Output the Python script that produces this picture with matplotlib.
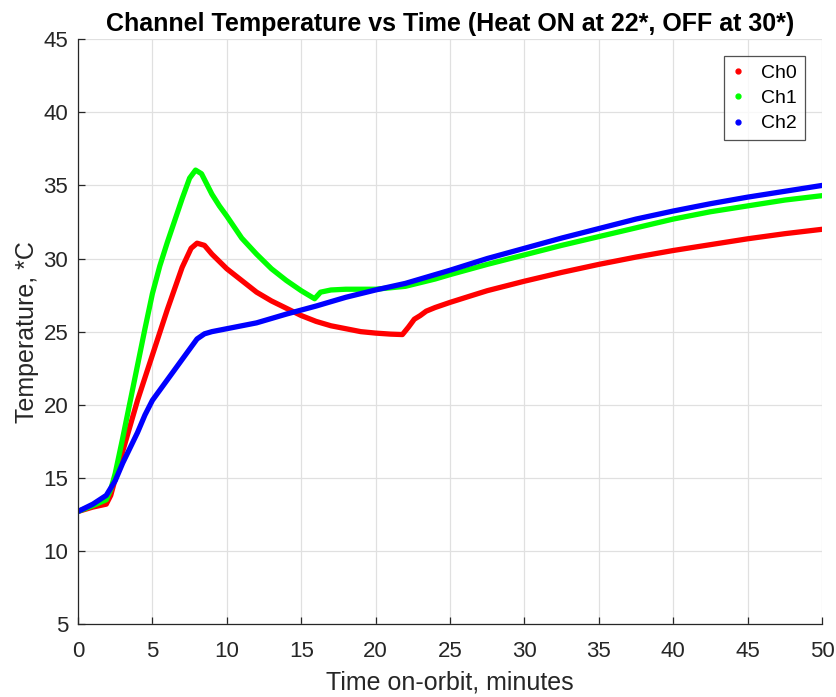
import matplotlib.pyplot as plt
from matplotlib.lines import Line2D

# Ch0 (red) - time (minutes) and temperature (*C)
t_ch0 = [0, 1, 1.9, 2.2, 3, 4, 5, 6, 7, 7.6, 8.0, 8.5, 9, 10, 11, 12, 13, 14, 15, 16,
         17, 18, 19, 20, 21, 21.8, 22.2, 22.6, 23, 23.4, 24, 25, 26.4, 27.5, 30, 32.5,
         35, 37.5, 40, 42.5, 45, 47.5, 50]
temp_ch0 = [12.7, 13.0, 13.2, 13.8, 16.8, 20.3, 23.4, 26.5, 29.4, 30.7, 31.05, 30.9,
            30.3, 29.3, 28.5, 27.7, 27.1, 26.6, 26.1, 25.7, 25.4, 25.2, 25.0, 24.9,
            24.83, 24.8, 25.3, 25.85, 26.1, 26.4, 26.65, 27.0, 27.45, 27.8, 28.45,
            29.05, 29.6, 30.1, 30.55, 30.95, 31.35, 31.7, 32.0]

# Ch1 (green)
t_ch1 = [0, 1, 1.9, 2.2, 2.5, 3, 3.5, 4, 4.5, 5, 5.5, 6, 6.5, 7, 7.5, 7.9, 8.3, 8.7,
         9, 9.5, 10, 11, 12, 13, 14, 15, 15.9, 16.3, 17, 18, 19, 20, 21, 22, 23, 24, 25,
         27.5, 30, 32.5, 35, 37.5, 40, 42.5, 45, 47.5, 50]
temp_ch1 = [12.7, 13.1, 13.5, 14.2, 15.3, 17.7, 20.2, 22.7, 25.2, 27.6, 29.5, 31.1,
            32.6, 34.1, 35.5, 36.05, 35.8, 35.0, 34.4, 33.6, 32.9, 31.4, 30.3, 29.3,
            28.5, 27.8, 27.25, 27.7, 27.85, 27.9, 27.9, 27.9, 28.0, 28.1, 28.35, 28.6,
            28.9, 29.6, 30.25, 30.9, 31.5, 32.1, 32.7, 33.2, 33.6, 34.0, 34.3]

# Ch2 (blue)
t_ch2 = [0, 1, 1.9, 2.5, 3, 3.5, 4, 4.5, 5, 5.5, 6, 6.5, 7, 7.5, 8, 8.5, 9, 10, 12,
         14, 16, 18, 20, 22, 25, 27.5, 30, 32.5, 35, 37.5, 40, 42.5, 45, 47.5, 50]
temp_ch2 = [12.7, 13.2, 13.8, 14.8, 16.0, 17.05, 18.1, 19.3, 20.3, 21.0, 21.7, 22.4,
            23.1, 23.8, 24.5, 24.85, 25.0, 25.2, 25.6, 26.2, 26.75, 27.35, 27.85, 28.3,
            29.2, 30.0, 30.7, 31.4, 32.05, 32.7, 33.25, 33.75, 34.2, 34.6, 35.0]

channel_names = ['Ch0', 'Ch1', 'Ch2']
channel_colors = ['#ff0000', '#00ff00', '#0000ff']

x_ticks = list(range(0, 51, 5))
y_ticks = list(range(5, 46, 5))

plt.rcParams['font.family'] = ['Liberation Sans', 'DejaVu Sans']
axis_color = '#262626'

fig = plt.figure(figsize=(8.36, 6.97), dpi=100)
ax = fig.add_axes([0.0933, 0.1047, 0.8900, 0.8390])

series = [(t_ch0, temp_ch0), (t_ch1, temp_ch1), (t_ch2, temp_ch2)]
for (t, temp), color in zip(series, channel_colors):
    ax.plot(t, temp, color=color, linewidth=3.8, solid_capstyle='round',
            solid_joinstyle='round')

ax.set_xlim(0, 50)
ax.set_ylim(5, 45)
ax.set_xticks(x_ticks)
ax.set_yticks(y_ticks)
ax.grid(True, color='#e0e0e0', linewidth=0.9)
ax.set_axisbelow(True)

for side in ['top', 'right']:
    ax.spines[side].set_visible(False)
for side in ['left', 'bottom']:
    ax.spines[side].set_color(axis_color)
    ax.spines[side].set_linewidth(0.9)
ax.tick_params(direction='in', length=5, width=0.9, colors=axis_color,
               labelsize=16)
ax.tick_params(axis='x', pad=12)
ax.tick_params(axis='y', pad=7)

ax.set_xlabel('Time on-orbit, minutes', fontsize=18, color=axis_color, labelpad=6)
ax.set_ylabel('Temperature, *C', fontsize=18, color=axis_color, labelpad=3)
ax.set_title('Channel Temperature vs Time (Heat ON at 22*, OFF at 30*)',
             fontsize=18, fontweight='bold', color='black', pad=6)

handles = [Line2D([], [], linestyle='none', marker='o', markersize=3.5,
                  color=c) for c in channel_colors]
leg = ax.legend(handles, channel_names, loc='upper right',
                bbox_to_anchor=(0.977, 0.971), borderaxespad=0, fontsize=14,
                frameon=True, fancybox=False, edgecolor=axis_color,
                handlelength=0.6, handletextpad=0.9, borderpad=0.4,
                labelspacing=0.4)
leg.get_frame().set_linewidth(0.9)

fig.savefig('out.png', dpi=100, facecolor='white')
